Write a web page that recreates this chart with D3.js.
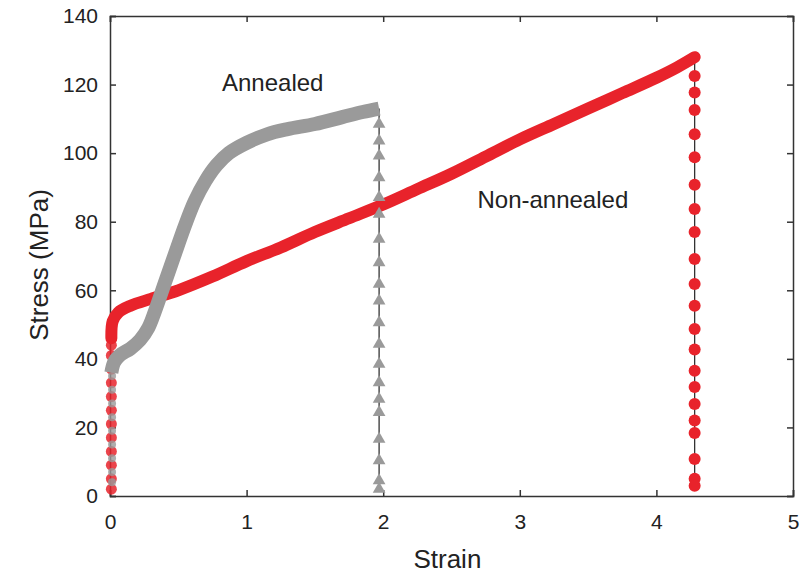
<!DOCTYPE html>
<meta charset="utf-8">
<head>
    <script src="https://d3js.org/d3.v7.min.js"></script>
    <style>
    body { margin: 0; background: white; }
    .axis text { font-family: "Liberation Sans", Arial, sans-serif; font-size: 21px; fill: #222; }
    .axis path, .axis line { stroke: #333; stroke-width: 1.5px; }
    .label { font-family: "Liberation Sans", Arial, sans-serif; font-size: 24px; fill: #222; }
    </style>
</head>
<body>
<svg id="chart"></svg>
<script>

// tick values
var xTicks = [0, 1, 2, 3, 4, 5];
var yTicks = [0, 20, 40, 60, 80, 100, 120, 140];

// non-annealed (red) main curve: [strain, stress]
var redCurve = [[0.01,46],[0.02,51],[0.06,53.5],[0.15,55.5],[0.3,57.5],[0.5,60],[0.75,64],
    [1.0,68.5],[1.25,72.5],[1.5,77],[1.75,81],[2.0,85],[2.25,89.5],[2.5,94],[2.75,99],
    [3.0,104],[3.25,108.5],[3.5,113],[3.75,117.5],[4.0,122],[4.15,125],[4.28,128]];
// markers on the red start and fracture drop
var redStart = [2, 5, 9, 13, 17, 21, 25, 29, 33, 37, 41, 44];
var redDropStrain = 4.28;
var redDrop = [128, 122.5, 117.7, 112.6, 105.5, 98.8, 90.8, 83.7, 77, 69.1, 61.8, 55.5, 48.7,
    42.7, 36.5, 31.8, 26.8, 22, 18.4, 10.8, 5, 3];

// annealed (grey) main curve
var greyCurve = [[0.01,36],[0.03,39],[0.07,41],[0.15,43],[0.22,45.5],[0.28,49],[0.33,54],
    [0.4,62],[0.47,70],[0.55,79],[0.62,86],[0.7,92],[0.78,96.5],[0.87,100],[1.0,103],
    [1.15,105.5],[1.3,107],[1.5,108.5],[1.7,110.5],[1.85,112],[1.97,113]];
var greyStart = [4, 7, 11, 15, 19, 23, 27, 31, 35];
var greyDropStrain = 1.97;
var greyDrop = [113, 108.5, 103.6, 99.2, 92.9, 87.1, 82.2, 74.9, 68.1, 61.8, 56.9, 50.6,
    44.3, 38.5, 33.1, 28.3, 24.4, 16.6, 10.3, 4.5, 2];

var margin = {top: 16, right: 7, bottom: 84, left: 110},
    width = 800 - margin.left - margin.right,
    height = 580 - margin.top - margin.bottom;

var x = d3.scaleLinear().domain([0, 5]).range([0, width]);
var y = d3.scaleLinear().domain([0, 140]).range([height, 0]);

var svg = d3.select("#chart")
    .attr("width", 800)
    .attr("height", 580)
    .append("g")
    .attr("transform", "translate(" + margin.left + "," + margin.top + ")");

var red = "#e8232b", grey = "#9a9a9a";

// axes with inward ticks (box)
svg.append("g").attr("class", "axis")
    .attr("transform", "translate(0," + height + ")")
    .call(d3.axisBottom(x).tickValues(xTicks).tickSize(-6).tickPadding(18).tickFormat(d3.format("d")));
svg.append("g").attr("class", "axis")
    .call(d3.axisLeft(y).tickValues(yTicks).tickSize(-6).tickPadding(12));
svg.append("g").attr("class", "axis")
    .call(d3.axisTop(x).tickValues(xTicks).tickSize(-6).tickFormat(""));
svg.append("g").attr("class", "axis")
    .attr("transform", "translate(" + width + ",0)")
    .call(d3.axisRight(y).tickValues(yTicks).tickSize(-6).tickFormat(""));

// drop lines
function dropLine(s, vals) {
    svg.append("line")
        .attr("x1", x(s)).attr("x2", x(s))
        .attr("y1", y(d3.max(vals))).attr("y2", y(d3.min(vals)))
        .attr("stroke", "#333").attr("stroke-width", 1.3);
}
dropLine(greyDropStrain, greyDrop);
dropLine(redDropStrain, redDrop);

var line = d3.line()
    .x(function(d) { return x(d[0]); })
    .y(function(d) { return y(d[1]); })
    .curve(d3.curveCatmullRom.alpha(0.5));

// start markers
svg.selectAll(".rs").data(redStart).enter().append("circle")
    .attr("cx", x(0.01)).attr("cy", function(d) { return y(d); })
    .attr("r", 5.5).attr("fill", red).attr("opacity", 0.85);
svg.selectAll(".gs").data(greyStart).enter().append("circle")
    .attr("cx", x(0.015)).attr("cy", function(d) { return y(d); })
    .attr("r", 4).attr("fill", grey).attr("opacity", 0.8);

// red band
svg.append("path").datum(redCurve)
    .attr("fill", "none").attr("stroke", red)
    .attr("stroke-width", 12).attr("stroke-linejoin", "round").attr("stroke-linecap", "round")
    .attr("d", line);

// grey band
svg.append("path").datum(greyCurve)
    .attr("fill", "none").attr("stroke", grey)
    .attr("stroke-width", 14).attr("stroke-linejoin", "round")
    .attr("d", line);

// grey triangles on drop
var tri = d3.symbol().type(d3.symbolTriangle).size(70);
svg.selectAll(".gt").data(greyDrop.slice(1)).enter().append("path")
    .attr("d", tri)
    .attr("transform", function(d) { return "translate(" + x(greyDropStrain) + "," + y(d) + ")"; })
    .attr("fill", grey);

// red dots on drop
svg.selectAll(".rd").data(redDrop.slice(1)).enter().append("circle")
    .attr("cx", x(redDropStrain)).attr("cy", function(d) { return y(d); })
    .attr("r", 6).attr("fill", red);

// curve labels
svg.append("text").attr("class", "label")
    .attr("x", x(0.82)).attr("y", y(118))
    .text("Annealed");
svg.append("text").attr("class", "label")
    .attr("x", x(2.69)).attr("y", y(84))
    .text("Non-annealed");

// axis titles
svg.append("text").attr("class", "label")
    .attr("text-anchor", "middle")
    .attr("x", x(2.47)).attr("y", height + 72)
    .style("font-size", "26px")
    .text("Strain");
svg.append("text").attr("class", "label")
    .attr("text-anchor", "middle")
    .attr("transform", "rotate(-90)")
    .attr("x", -249).attr("y", -62)
    .style("font-size", "26px")
    .text("Stress (MPa)");

</script>
</body>
